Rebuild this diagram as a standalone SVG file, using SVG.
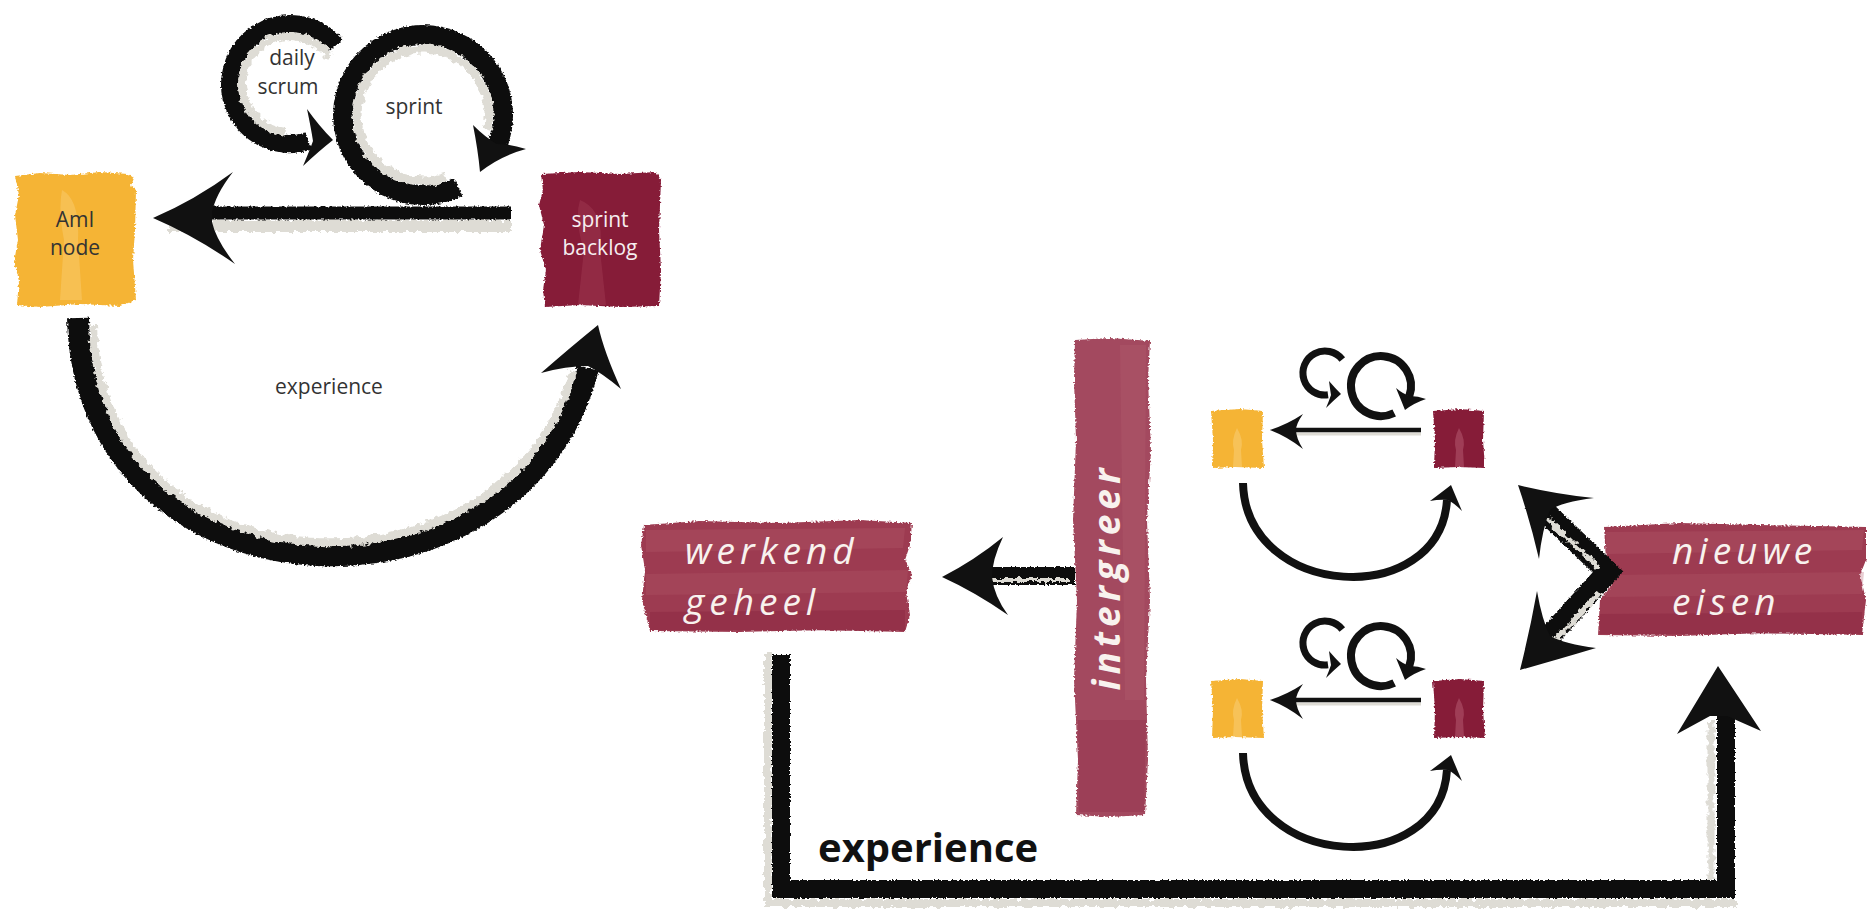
<svg xmlns="http://www.w3.org/2000/svg" width="1868" height="914" viewBox="0 0 1868 914">
<defs>
<filter id="rough" filterUnits="userSpaceOnUse" x="0" y="0" width="1868" height="914">
<feTurbulence type="fractalNoise" baseFrequency="0.5" numOctaves="2" seed="4" result="n"/>
<feDisplacementMap in="SourceGraphic" in2="n" scale="4" xChannelSelector="R" yChannelSelector="G"/>
</filter>
<filter id="torn" filterUnits="userSpaceOnUse" x="0" y="0" width="1868" height="914">
<feTurbulence type="fractalNoise" baseFrequency="0.18" numOctaves="3" seed="7" result="n"/>
<feDisplacementMap in="SourceGraphic" in2="n" scale="8" xChannelSelector="R" yChannelSelector="G"/>
</filter>
<g id="miniConn">
<path class="paper" d="M1286,434 L1421,434" stroke-width="3"/>
<path class="ink" d="M1292,430 L1421,430" stroke-width="4.5"/>
<path class="head" d="M1270,430 Q1288,424 1303,414 Q1296,424 1296,430 Q1296,438 1303,449 Q1288,437 1270,430 Z"/>
<path class="ink" d="M1342.3,359.5 A22,22 0 1 0 1328,394.8" stroke-width="7"/>
<path class="head" d="M1341,394 Q1335,388 1329,381 Q1330,389 1331,395 Q1329,401 1326,408 Q1334,400 1341,394 Z"/>
<path class="ink" d="M1394.2,413 A30,30 0 1 1 1409.2,396.3" stroke-width="8"/>
<path class="head" d="M1405,410 Q1401,400 1396,388 Q1403,394 1410,396 Q1418,396 1426,399 Q1414,403 1405,410 Z"/>
<path class="ink" d="M1243,483 C1246,600 1440,610 1447,500" stroke-width="8"/>
<path class="head" d="M1451,485 Q1456,497 1462,511 Q1454,503 1448,500 Q1440,499 1430,501 Q1442,492 1451,485 Z"/>
</g>
</defs>
<style>
.ink{fill:none;stroke:#111;stroke-linecap:butt;stroke-linejoin:miter}
.paper{fill:none;stroke:#dedcd5;stroke-linecap:butt}
.head{fill:#111}
.lbl{font-family:"Open Sans","DejaVu Sans",sans-serif;font-size:21px;fill:#333;text-anchor:middle}
.wl{font-family:"Open Sans","DejaVu Sans",sans-serif;font-size:21px;fill:#f6eef0;text-anchor:middle}
.big{font-family:"Open Sans","DejaVu Sans",sans-serif;font-style:italic;font-size:37px;fill:#f8f2ee;letter-spacing:5px}
.bold{font-family:"Open Sans","DejaVu Sans",sans-serif;font-weight:bold;font-size:40px;fill:#111}
.yel{fill:#F5B434}
.mar{fill:#861B39}
.rose{fill:#9D3B51}
</style>
<rect width="1868" height="914" fill="#ffffff"/>

<g id="ami-node">
<path class="yel" filter="url(#rough)" d="M15,176 L40,173 L70,175 L100,172 L128,174 L134,178 L131,186 L136,190 L135,230 L133,260 L136,300 L120,306 L80,304 L40,307 L17,305 L19,280 L14,262 L18,240 L15,215 L19,195 Z"/>
<path fill="#F9CC70" opacity="0.5" d="M62,190 Q80,200 78,240 L82,300 L60,300 L64,240 Q58,210 62,190 Z"/>
<text class="lbl" x="75" y="227">AmI</text>
<text class="lbl" x="75" y="255">node</text>
</g>

<g id="sprint-backlog">
<path class="mar" filter="url(#rough)" d="M541,174 L580,172 L620,174 L656,172 L661,180 L659,230 L661,270 L659,306 L620,307 L580,305 L545,307 L543,290 L546,270 L540,250 L544,225 L539,205 L543,190 Z"/>
<path fill="#A23C55" opacity="0.45" d="M580,200 Q605,210 600,250 L606,305 L578,305 L584,250 Q574,220 580,200 Z"/>
<text class="wl" x="600" y="227">sprint</text>
<text class="wl" x="600" y="255">backlog</text>
</g>

<g id="werkend-geheel">
<path class="rose" filter="url(#rough)" d="M644,525 L700,521 L780,523 L860,520 L912,523 L910,545 L905,560 L912,575 L906,592 L910,615 L905,632 L820,630 L740,632 L650,631 L642,600 L645,570 L641,545 Z"/>
<path fill="#B35A6B" opacity="0.35" d="M646,530 L905,528 L903,548 L646,552 Z"/>
<path fill="#B35A6B" opacity="0.3" d="M646,574 L908,570 L906,592 L646,595 Z"/>
<path fill="#84203C" opacity="0.35" d="M650,612 L905,610 L905,631 L650,630 Z"/>
<text class="big" x="685" y="564">werkend</text>
<text class="big" x="685" y="615">geheel</text>
</g>

<g id="intergreer">
<path fill="#A34A5E" filter="url(#rough)" d="M1075,340 L1110,338 L1150,341 L1148,380 L1151,450 L1147,520 L1150,600 L1146,680 L1148,760 L1145,815 L1110,817 L1076,815 L1078,760 L1074,680 L1077,600 L1073,520 L1076,440 L1074,380 Z"/>
<path fill="#B5606F" opacity="0.3" d="M1120,345 L1146,345 L1144,700 L1125,700 Z"/>
<path fill="#8E2944" opacity="0.3" d="M1078,720 L1146,720 L1144,812 L1079,812 Z"/>
<text class="big" font-weight="bold" font-size="40" letter-spacing="2" text-anchor="middle" transform="translate(1120,577) rotate(-90)">intergreer</text>
</g>

<g id="nieuwe-eisen">
<path class="rose" filter="url(#rough)" d="M1604,527 L1680,523 L1760,525 L1866,527 L1866,560 L1860,575 L1866,600 L1862,635 L1760,633 L1680,636 L1598,635 L1600,600 L1612,585 L1606,560 Z"/>
<path fill="#B35A6B" opacity="0.35" d="M1606,532 L1864,530 L1862,550 L1606,554 Z"/>
<path fill="#B35A6B" opacity="0.3" d="M1610,575 L1864,572 L1862,594 L1606,597 Z"/>
<path fill="#84203C" opacity="0.35" d="M1600,614 L1862,612 L1862,634 L1600,634 Z"/>
<text class="big" x="1672" y="564">nieuwe</text>
<text class="big" x="1672" y="615">eisen</text>
</g>

<g id="team-1-ami">
<path class="yel" filter="url(#rough)" d="M1211,411 L1240,409 L1263,411 L1262,440 L1264,468 L1235,467 L1212,468 L1213,440 Z"/>
<path fill="#F9CC70" opacity="0.6" d="M1237,428 Q1244,440 1241,450 L1242,467 L1233,467 L1234,450 Q1231,440 1237,428 Z"/>
</g>
<g id="team-1-backlog">
<path class="mar" filter="url(#rough)" d="M1433,411 L1460,409 L1484,411 L1483,440 L1485,468 L1458,467 L1434,468 L1435,440 Z"/>
<path fill="#B0546A" opacity="0.6" d="M1459,428 Q1466,440 1463,450 L1464,467 L1455,467 L1456,450 Q1453,440 1459,428 Z"/>
</g>
<g id="team-2-ami">
<path class="yel" filter="url(#rough)" d="M1211,681 L1240,679 L1263,681 L1262,710 L1264,738 L1235,737 L1212,738 L1213,710 Z"/>
<path fill="#F9CC70" opacity="0.6" d="M1237,698 Q1244,710 1241,720 L1242,737 L1233,737 L1234,720 Q1231,710 1237,698 Z"/>
</g>
<g id="team-2-backlog">
<path class="mar" filter="url(#rough)" d="M1433,681 L1460,679 L1484,681 L1483,710 L1485,738 L1458,737 L1434,738 L1435,710 Z"/>
<path fill="#B0546A" opacity="0.6" d="M1459,698 Q1466,710 1463,720 L1464,737 L1455,737 L1456,720 Q1453,710 1459,698 Z"/>
</g>

<g id="connectors">
<!-- sprint backlog to AmI node -->
<path class="paper" d="M168,226 L511,226" stroke-width="12" filter="url(#torn)"/>
<path class="ink" d="M205,213 L511,213" stroke-width="13" filter="url(#rough)"/>
<path class="head" d="M153,218 Q195,200 233,172 Q215,195 212,213 L212,222 Q216,240 235,264 Q195,236 153,218 Z"/>
<!-- experience arc -->
<path class="ink" d="M78,318 C85,615 520,635 588,368" stroke-width="22" filter="url(#rough)"/>
<path class="paper" d="M93,325 C99,598 507,614 573,372" stroke-width="8" filter="url(#torn)"/>
<path class="head" d="M598,325 Q604,352 621,389 Q602,373 588,366 Q566,366 541,373 Q572,346 598,325 Z"/>
<!-- daily scrum loop -->
<path class="ink" d="M336,45.4 A60,60 0 1 0 308.5,141.1" stroke-width="18" filter="url(#rough)"/>
<path class="paper" d="M329.3,56.5 A48,48 0 1 0 285.8,131.8" stroke-width="8" filter="url(#torn)"/>
<path class="head" d="M333,140 Q319,126 307,109 Q311,128 313,141 Q309,152 303,166 Q319,151 333,140 Z"/>
<!-- sprint loop -->
<path class="ink" d="M458.1,186.9 A80,80 0 1 1 497.2,145" stroke-width="20" filter="url(#rough)"/>
<path class="paper" d="M445.6,177 A66,66 0 1 1 487.6,128.7" stroke-width="9" filter="url(#torn)"/>
<path class="head" d="M480,172 Q478,150 473,125 Q486,138 497,144 Q510,144 526,149 Q500,156 480,172 Z"/>

<!-- intergreer to werkend geheel -->
<path class="ink" d="M990,576 L1075,576" stroke-width="18" filter="url(#rough)"/>
<path class="paper" d="M958,580 L1070,580" stroke-width="4" filter="url(#torn)"/>
<path class="head" d="M942,577 Q975,560 1003,537 Q992,560 992,577 Q994,596 1008,615 Q975,592 942,577 Z"/>

<!-- nieuwe eisen V arrows -->
<path class="ink" d="M1533,500 L1608,572 L1537,650" stroke-width="22" filter="url(#rough)"/>
<path class="paper" d="M1540,512 L1598,567" stroke-width="5" filter="url(#torn)"/>
<path class="paper" d="M1550,646 L1600,592" stroke-width="5" filter="url(#torn)"/>
<path class="head" d="M1518,485 Q1555,494 1594,498 Q1562,502 1550,510 Q1542,530 1539,559 Q1530,520 1518,485 Z"/>
<path class="head" d="M1520,670 Q1530,630 1537,591 Q1542,620 1550,636 Q1565,644 1596,648 Q1556,660 1520,670 Z"/>

<!-- experience bracket -->
<path class="paper" d="M768,652 L768,906" stroke-width="8" filter="url(#torn)"/>
<path class="paper" d="M770,903 L1738,903" stroke-width="8" filter="url(#torn)"/>
<path class="paper" d="M1711,722 L1711,880" stroke-width="7" filter="url(#torn)"/>
<path class="ink" d="M781,655 L781,889 L1726,889 L1726,712" stroke-width="18" filter="url(#rough)"/>
<path class="head" d="M1718,666 L1761,731 L1727,716 L1710,716 L1677,734 Z"/>

<!-- mini team loops -->
<use href="#miniConn"/>
<use href="#miniConn" transform="translate(0,270)"/>

<text class="lbl" x="292" y="65">daily</text>
<text class="lbl" x="288" y="94">scrum</text>
<text class="lbl" x="414" y="114">sprint</text>
<text class="lbl" x="329" y="394">experience</text>
<text class="bold" x="818" y="862">experience</text>
</g>
</svg>
